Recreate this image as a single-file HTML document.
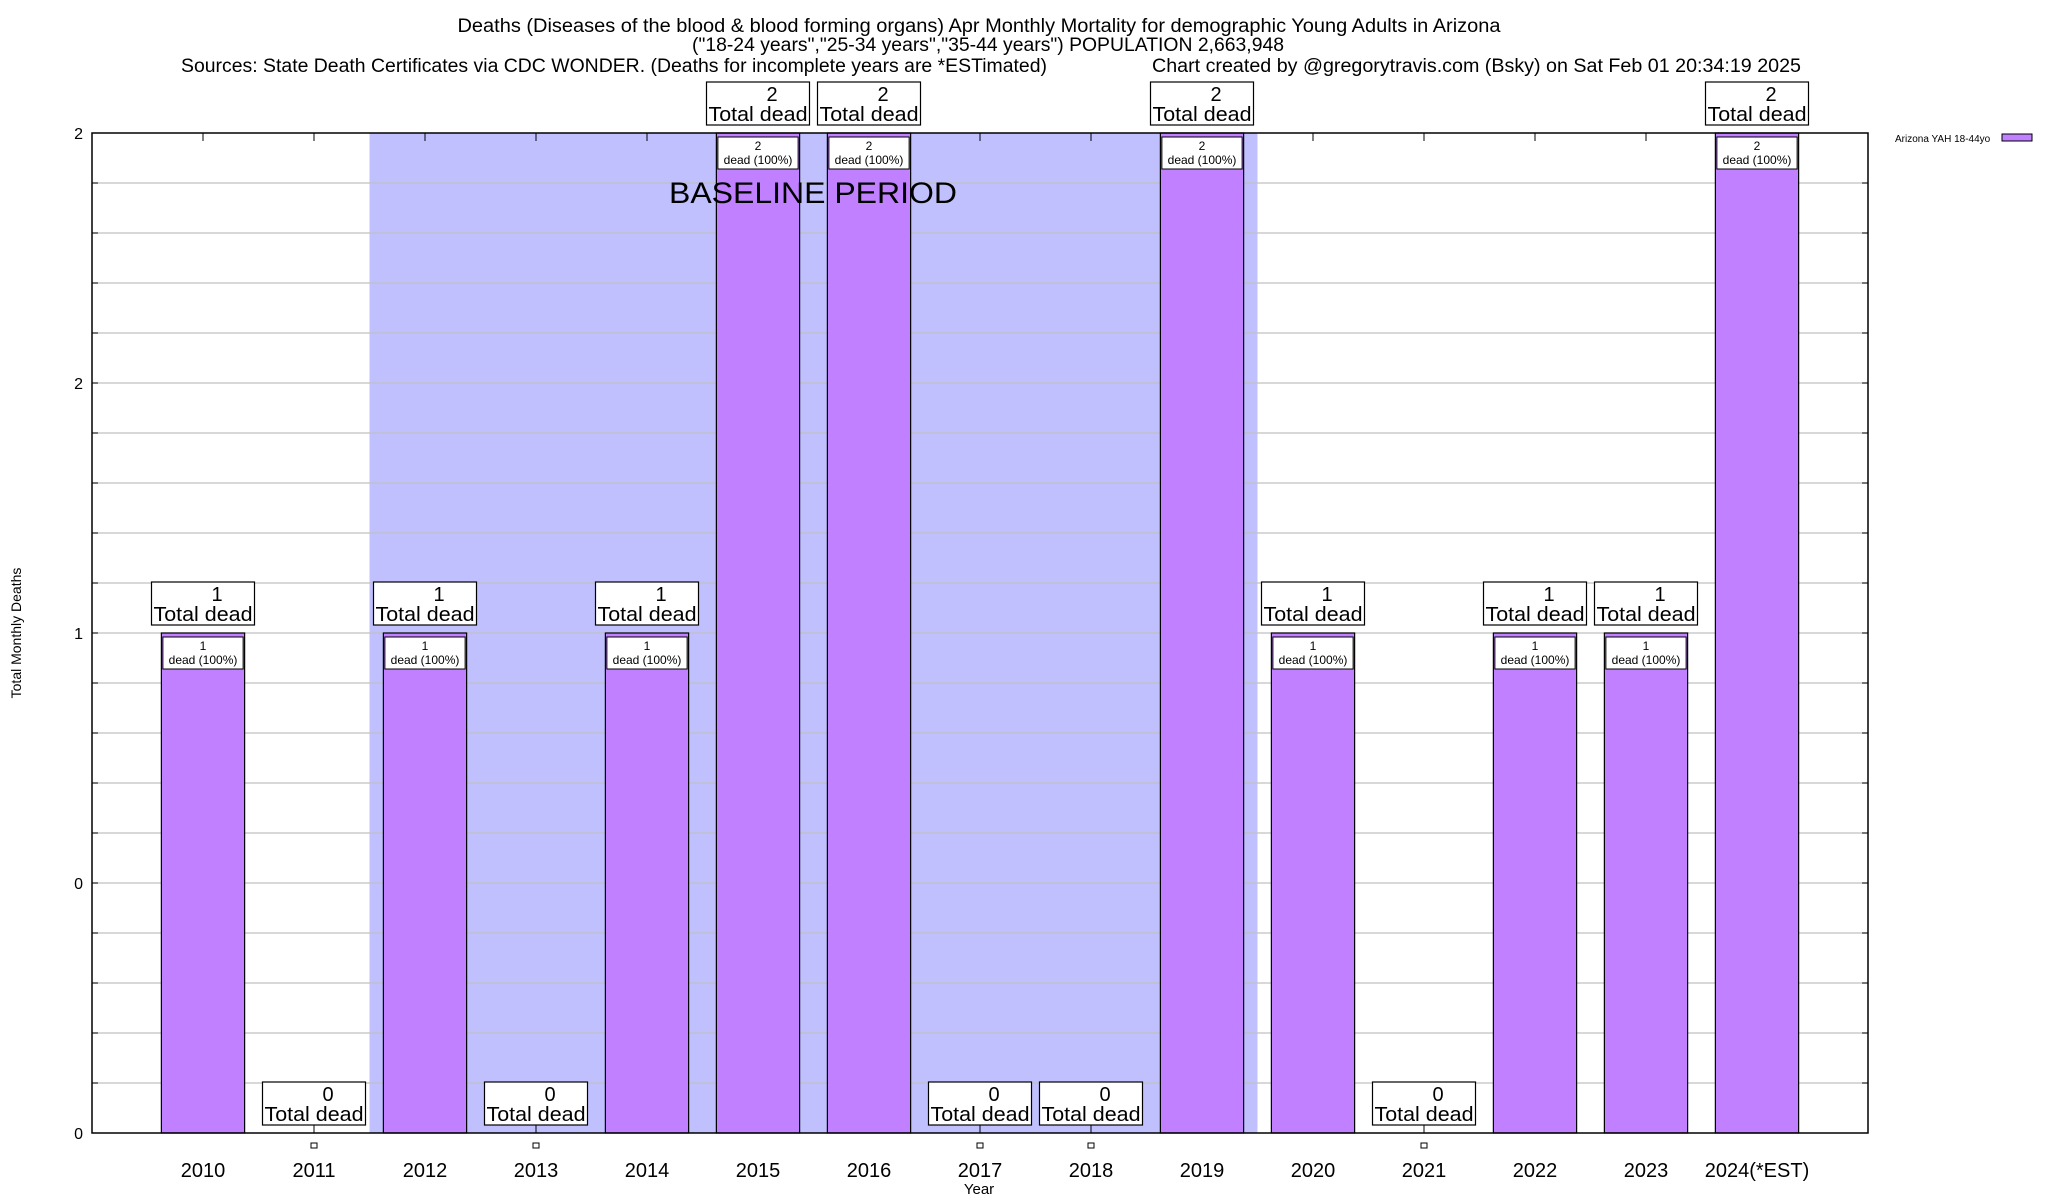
<!DOCTYPE html>
<html><head><meta charset="utf-8"><style>
html,body{margin:0;padding:0;background:#fff;}
svg{display:block;font-family:"Liberation Sans",sans-serif;}
</style></head><body>
<svg id="chart" width="2048" height="1200" viewBox="0 0 2048 1200" xmlns="http://www.w3.org/2000/svg">
<rect x="0" y="0" width="2048" height="1200" fill="#fff"/>
<g>
<text x="979" y="32" font-size="19" text-anchor="middle" textLength="1043" lengthAdjust="spacingAndGlyphs">Deaths (Diseases of the blood &amp; blood forming organs) Apr Monthly Mortality for demographic Young Adults in Arizona</text>
<text x="988" y="51" font-size="19" text-anchor="middle" textLength="592" lengthAdjust="spacingAndGlyphs">("18-24 years","25-34 years","35-44 years") POPULATION 2,663,948</text>
<text x="181" y="72" font-size="19" textLength="866" lengthAdjust="spacingAndGlyphs">Sources: State Death Certificates via CDC WONDER. (Deaths for incomplete years are *ESTimated)</text>
<text x="1152" y="72" font-size="19" textLength="649" lengthAdjust="spacingAndGlyphs">Chart created by @gregorytravis.com (Bsky) on Sat Feb 01 20:34:19 2025</text>
</g>
<g id="plot"></g>
<text x="0" y="0" font-size="14" text-anchor="middle" transform="translate(21,633) rotate(-90)">Total Monthly Deaths</text>
<text x="979" y="1194" font-size="15" text-anchor="middle">Year</text>
<g>
<text x="1895" y="142" font-size="10">Arizona YAH 18-44yo</text>
<rect x="2002" y="134" width="30" height="7" fill="#c080ff" stroke="#000" stroke-width="1"/>
</g>
</svg>
<script>
const categories = ["2010","2011","2012","2013","2014","2015","2016","2017","2018","2019","2020","2021","2022","2023","2024(*EST)"];
const deaths = [1,0,1,0,1,2,2,0,0,2,1,0,1,1,2];
const yTickValues = [0,0.5,1,1.5,2];
const yTickLabels = ["0","0","1","2","2"];
const baselineStart = 1.5;
const baselineEnd = 9.5;

const NS = "http://www.w3.org/2000/svg";
const L = 92, R = 1868, T = 133, B = 1133;
const xMin = -1, xMax = 15, yMin = 0, yMax = 2;
function xs(v){ return L + (v - xMin) / (xMax - xMin) * (R - L); }
function ys(v){ return B - (v - yMin) / (yMax - yMin) * (B - T); }
const plot = document.getElementById('plot');
function mk(tag, attrs, parent){
  const e = document.createElementNS(NS, tag);
  for (const k in attrs) e.setAttribute(k, attrs[k]);
  (parent || plot).appendChild(e);
  return e;
}

let sh = mk('rect', {x: xs(baselineStart), y: T, width: xs(baselineEnd) - xs(baselineStart), height: B - T, fill: '#c0c0ff'});



for (let i = 1; i < 20; i++) {
  const v = i / 10;
  let g = mk('line', {x1: L, x2: R, y1: ys(v), y2: ys(v), stroke: '#c0c0c0', 'stroke-width': 1.2});
  
  
  mk('line', {x1: L, x2: L + 6, y1: ys(v), y2: ys(v), stroke: '#000'});
  mk('line', {x1: R - 6, x2: R, y1: ys(v), y2: ys(v), stroke: '#000'});
}

categories.forEach((c, i) => {
  const x = xs(i);
  mk('line', {x1: x, x2: x, y1: B, y2: B - 8, stroke: '#000'});
  mk('line', {x1: x, x2: x, y1: T, y2: T + 8, stroke: '#000'});
  let t = mk('text', {x: x, y: 1177, 'font-size': 20, 'text-anchor': 'middle'});
  t.textContent = c;
  
  
});

yTickValues.forEach((v, i) => {
  let t = mk('text', {x: 83, y: ys(v) + 6, 'font-size': 16, 'text-anchor': 'end'});
  t.textContent = yTickLabels[i];
  
  
});

const bw = 0.75;
deaths.forEach((d, i) => {
  const x0 = xs(i - bw / 2), x1 = xs(i + bw / 2), cx = xs(i);
  const top = ys(d);
  if (d > 0) {
    let b = mk('rect', {x: x0, y: top, width: x1 - x0, height: B - top, fill: '#c080ff', stroke: '#000', 'stroke-width': 1.2});
    
    
    let ib = mk('rect', {x: x0 + 1.5, y: top + 4, width: x1 - x0 - 3, height: 32, fill: '#fff', stroke: '#000', 'stroke-width': 1});
    
    
    let t1 = mk('text', {x: cx, y: top + 17, 'font-size': 12, 'text-anchor': 'middle'});
    t1.textContent = String(d);
    let t2 = mk('text', {x: cx, y: top + 31, 'font-size': 12, 'text-anchor': 'middle'});
    t2.textContent = 'dead (100%)';
    
    
  } else {
    let p = mk('rect', {x: cx - 3, y: 1143, width: 6, height: 5, fill: '#fff', stroke: '#000', 'stroke-width': 1});
    
    
  }
  const bb = top - 8;
  let box = mk('rect', {x: cx - 51.5, y: bb - 43, width: 103, height: 43, fill: '#fff', stroke: '#000', 'stroke-width': 1.2});
  
  
  let n = mk('text', {x: cx + 14, y: bb - 24, 'font-size': 20, 'text-anchor': 'middle'});
  n.textContent = String(d);
  let td = mk('text', {x: cx, y: bb - 4, 'font-size': 20, 'text-anchor': 'middle', textLength: 99, lengthAdjust: 'spacingAndGlyphs'});
  td.textContent = 'Total dead';
  
  
});

let bl = mk('text', {x: 669, y: 203, 'font-size': 30, textLength: 288, lengthAdjust: 'spacingAndGlyphs'});
bl.textContent = 'BASELINE PERIOD';



let fr = mk('rect', {x: L, y: T, width: R - L, height: B - T, fill: 'none', stroke: '#000', 'stroke-width': 1.5});


</script>
</body></html>
